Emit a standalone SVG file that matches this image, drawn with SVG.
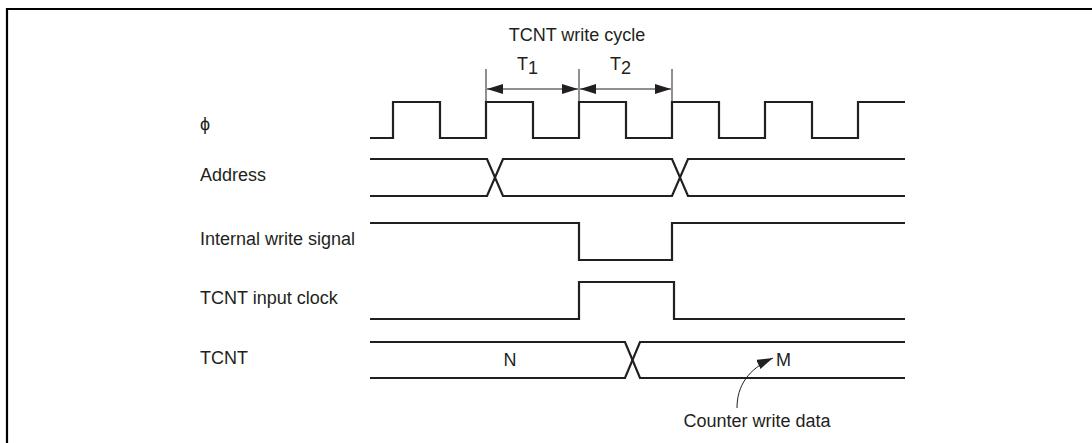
<svg xmlns="http://www.w3.org/2000/svg" width="1092" height="443" viewBox="0 0 1092 443">
<style>
.sig{fill:none;stroke:#231f20;stroke-width:2.2;stroke-linejoin:miter;stroke-linecap:butt}
.thin{fill:none;stroke:#231f20;stroke-width:1}
.lbl{font-family:"Liberation Sans",Arial,sans-serif;font-size:18px;fill:#231f20}
.frame{fill:none;stroke:#000;stroke-width:2.2}
</style>
<defs>
<marker id="ah" viewBox="0 0 16 10" refX="16" refY="5" markerWidth="16" markerHeight="10" markerUnits="userSpaceOnUse" orient="auto-start-reverse">
<path d="M0,0 L16,5 L0,10 Z" fill="#231f20"/>
</marker>
</defs>
<rect width="1092" height="443" fill="#fff"/>
<path class="frame" d="M7,443 V9 H1092"/>

<g id="labels">
<text class="lbl" x="200" y="130">ϕ</text>
<text class="lbl" x="200" y="181">Address</text>
<text class="lbl" x="200" y="245">Internal write signal</text>
<text class="lbl" x="200" y="304">TCNT input clock</text>
<text class="lbl" x="200" y="364">TCNT</text>
</g>

<g id="cycle-label">
<text class="lbl" x="577" y="41" text-anchor="middle">TCNT write cycle</text>
<text class="lbl" x="517" y="70">T<tspan dy="4">1</tspan></text>
<text class="lbl" x="610" y="70">T<tspan dy="4">2</tspan></text>
</g>

<g id="connectors">
<path class="thin" d="M486,69 V102 M579,69 V102 M672,69 V102"/>
<path class="thin" d="M487,89 H578" marker-start="url(#ah)" marker-end="url(#ah)"/>
<path class="thin" d="M580,89 H671" marker-start="url(#ah)" marker-end="url(#ah)"/>
<path class="thin" d="M737,408 C737,386 748,369 773,358" marker-end="url(#ah)"/>
</g>

<g id="phi">
<path class="sig" d="M370,138 H393 V102 H440 V138 H486 V102 H533 V138 H579 V102 H626 V138 H672 V102 H719 V138 H765 V102 H812 V138 H858 V102 H905"/>
</g>

<g id="address">
<path class="sig" d="M370,159 H487 L503,196 H672 L688,159 H905"/>
<path class="sig" d="M370,196 H487 L503,159 H672 L688,196 H905"/>
</g>

<g id="write-signal">
<path class="sig" d="M370,223 H579 V260 H672 V223 H905"/>
</g>

<g id="input-clock">
<path class="sig" d="M370,319 H579 V282 H674 V319 H905"/>
</g>

<g id="tcnt">
<path class="sig" d="M370,342 H625 L640,378 H905"/>
<path class="sig" d="M370,378 H625 L640,342 H905"/>
<text class="lbl" x="510" y="366" text-anchor="middle">N</text>
<text class="lbl" x="776" y="366">M</text>
</g>

<g id="annotation">
<text class="lbl" x="757" y="427" text-anchor="middle">Counter write data</text>
</g>
</svg>
